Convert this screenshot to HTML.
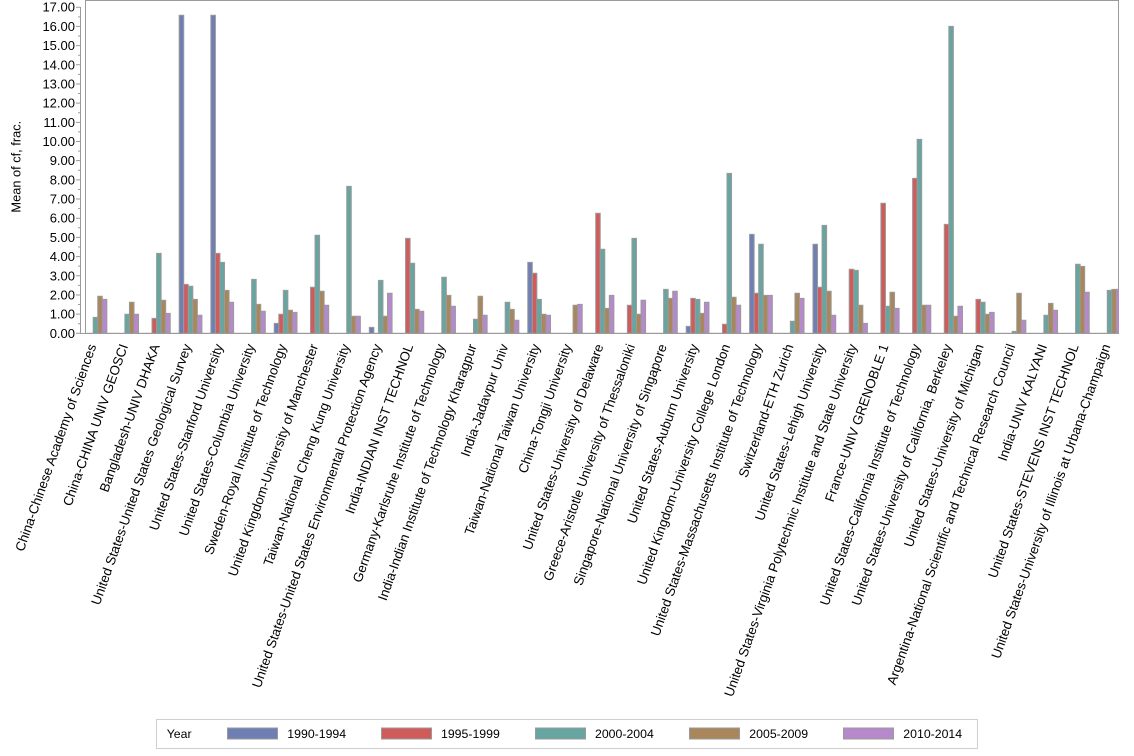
<!DOCTYPE html>
<html>
<head>
<meta charset="utf-8">
<style>
html,body{margin:0;padding:0;background:#fff;}
svg{display:block;}
text{font-family:"Liberation Sans",Arial,sans-serif;fill:#000;}
.b1{fill:#6F7EB3}.b2{fill:#D05B5B}.b3{fill:#66A5A0}.b4{fill:#A9865B}.b5{fill:#B689CD}
.bars rect{stroke:#9a9a9a;stroke-width:1;vector-effect:non-scaling-stroke;}
.cl text{font-size:13.3px;}
.yt text{font-size:13px;}
.lg text{font-size:12.3px;}
</style>
</head>
<body>
<svg width="1134" height="756" viewBox="0 0 1134 756" xmlns="http://www.w3.org/2000/svg">
<defs>
<clipPath id="pc"><rect x="85" y="0" width="1034" height="334"/></clipPath>
</defs>
<rect x="0" y="0" width="1134" height="756" fill="#fff"/>

<!-- frame -->
<rect x="85.5" y="0.5" width="1033" height="332.8" fill="#fff" stroke="#9a9a9a" stroke-width="1"/>

<!-- bars -->
<g class="bars" clip-path="url(#pc)">
<g transform="translate(84.1,333.3) scale(1,-19.18)"><rect class="b3" x="9.1" y="0" width="4.55" height="0.83"/><rect class="b4" x="13.65" y="0" width="4.55" height="1.93"/><rect class="b5" x="18.2" y="0" width="4.55" height="1.77"/></g>
<g transform="translate(115.79,333.3) scale(1,-19.18)"><rect class="b3" x="9.1" y="0" width="4.55" height="0.99"/><rect class="b4" x="13.65" y="0" width="4.55" height="1.62"/><rect class="b5" x="18.2" y="0" width="4.55" height="0.99"/></g>
<g transform="translate(147.48,333.3) scale(1,-19.18)"><rect class="b2" x="4.55" y="0" width="4.55" height="0.78"/><rect class="b3" x="9.1" y="0" width="4.55" height="4.17"/><rect class="b4" x="13.65" y="0" width="4.55" height="1.72"/><rect class="b5" x="18.2" y="0" width="4.55" height="1.04"/></g>
<g transform="translate(179.17,333.3) scale(1,-19.18)"><rect class="b1" x="0" y="0" width="4.55" height="16.58"/><rect class="b2" x="4.55" y="0" width="4.55" height="2.55"/><rect class="b3" x="9.1" y="0" width="4.55" height="2.45"/><rect class="b4" x="13.65" y="0" width="4.55" height="1.77"/><rect class="b5" x="18.2" y="0" width="4.55" height="0.94"/></g>
<g transform="translate(210.86,333.3) scale(1,-19.18)"><rect class="b1" x="0" y="0" width="4.55" height="16.58"/><rect class="b2" x="4.55" y="0" width="4.55" height="4.17"/><rect class="b3" x="9.1" y="0" width="4.55" height="3.70"/><rect class="b4" x="13.65" y="0" width="4.55" height="2.24"/><rect class="b5" x="18.2" y="0" width="4.55" height="1.62"/></g>
<g transform="translate(242.55,333.3) scale(1,-19.18)"><rect class="b3" x="9.1" y="0" width="4.55" height="2.81"/><rect class="b4" x="13.65" y="0" width="4.55" height="1.51"/><rect class="b5" x="18.2" y="0" width="4.55" height="1.15"/></g>
<g transform="translate(274.24,333.3) scale(1,-19.18)"><rect class="b1" x="0" y="0" width="4.55" height="0.52"/><rect class="b2" x="4.55" y="0" width="4.55" height="0.99"/><rect class="b3" x="9.1" y="0" width="4.55" height="2.24"/><rect class="b4" x="13.65" y="0" width="4.55" height="1.20"/><rect class="b5" x="18.2" y="0" width="4.55" height="1.09"/></g>
<g transform="translate(305.93,333.3) scale(1,-19.18)"><rect class="b2" x="4.55" y="0" width="4.55" height="2.40"/><rect class="b3" x="9.1" y="0" width="4.55" height="5.11"/><rect class="b4" x="13.65" y="0" width="4.55" height="2.19"/><rect class="b5" x="18.2" y="0" width="4.55" height="1.46"/></g>
<g transform="translate(337.62,333.3) scale(1,-19.18)"><rect class="b3" x="9.1" y="0" width="4.55" height="7.66"/><rect class="b4" x="13.65" y="0" width="4.55" height="0.89"/><rect class="b5" x="18.2" y="0" width="4.55" height="0.89"/></g>
<g transform="translate(369.31,333.3) scale(1,-19.18)"><rect class="b1" x="0" y="0" width="4.55" height="0.31"/><rect class="b3" x="9.1" y="0" width="4.55" height="2.76"/><rect class="b4" x="13.65" y="0" width="4.55" height="0.89"/><rect class="b5" x="18.2" y="0" width="4.55" height="2.09"/></g>
<g transform="translate(401,333.3) scale(1,-19.18)"><rect class="b2" x="4.55" y="0" width="4.55" height="4.95"/><rect class="b3" x="9.1" y="0" width="4.55" height="3.65"/><rect class="b4" x="13.65" y="0" width="4.55" height="1.25"/><rect class="b5" x="18.2" y="0" width="4.55" height="1.15"/></g>
<g transform="translate(432.69,333.3) scale(1,-19.18)"><rect class="b3" x="9.1" y="0" width="4.55" height="2.92"/><rect class="b4" x="13.65" y="0" width="4.55" height="1.98"/><rect class="b5" x="18.2" y="0" width="4.55" height="1.41"/></g>
<g transform="translate(464.38,333.3) scale(1,-19.18)"><rect class="b3" x="9.1" y="0" width="4.55" height="0.73"/><rect class="b4" x="13.65" y="0" width="4.55" height="1.93"/><rect class="b5" x="18.2" y="0" width="4.55" height="0.94"/></g>
<g transform="translate(496.07,333.3) scale(1,-19.18)"><rect class="b3" x="9.1" y="0" width="4.55" height="1.62"/><rect class="b4" x="13.65" y="0" width="4.55" height="1.25"/><rect class="b5" x="18.2" y="0" width="4.55" height="0.68"/></g>
<g transform="translate(527.76,333.3) scale(1,-19.18)"><rect class="b1" x="0" y="0" width="4.55" height="3.70"/><rect class="b2" x="4.55" y="0" width="4.55" height="3.13"/><rect class="b3" x="9.1" y="0" width="4.55" height="1.77"/><rect class="b4" x="13.65" y="0" width="4.55" height="0.99"/><rect class="b5" x="18.2" y="0" width="4.55" height="0.94"/></g>
<g transform="translate(559.45,333.3) scale(1,-19.18)"><rect class="b4" x="13.65" y="0" width="4.55" height="1.46"/><rect class="b5" x="18.2" y="0" width="4.55" height="1.51"/></g>
<g transform="translate(591.14,333.3) scale(1,-19.18)"><rect class="b2" x="4.55" y="0" width="4.55" height="6.26"/><rect class="b3" x="9.1" y="0" width="4.55" height="4.38"/><rect class="b4" x="13.65" y="0" width="4.55" height="1.30"/><rect class="b5" x="18.2" y="0" width="4.55" height="1.98"/></g>
<g transform="translate(622.83,333.3) scale(1,-19.18)"><rect class="b2" x="4.55" y="0" width="4.55" height="1.46"/><rect class="b3" x="9.1" y="0" width="4.55" height="4.95"/><rect class="b4" x="13.65" y="0" width="4.55" height="0.99"/><rect class="b5" x="18.2" y="0" width="4.55" height="1.72"/></g>
<g transform="translate(654.52,333.3) scale(1,-19.18)"><rect class="b3" x="9.1" y="0" width="4.55" height="2.29"/><rect class="b4" x="13.65" y="0" width="4.55" height="1.82"/><rect class="b5" x="18.2" y="0" width="4.55" height="2.19"/></g>
<g transform="translate(686.21,333.3) scale(1,-19.18)"><rect class="b1" x="0" y="0" width="4.55" height="0.36"/><rect class="b2" x="4.55" y="0" width="4.55" height="1.82"/><rect class="b3" x="9.1" y="0" width="4.55" height="1.77"/><rect class="b4" x="13.65" y="0" width="4.55" height="1.04"/><rect class="b5" x="18.2" y="0" width="4.55" height="1.62"/></g>
<g transform="translate(717.9,333.3) scale(1,-19.18)"><rect class="b2" x="4.55" y="0" width="4.55" height="0.47"/><rect class="b3" x="9.1" y="0" width="4.55" height="8.34"/><rect class="b4" x="13.65" y="0" width="4.55" height="1.88"/><rect class="b5" x="18.2" y="0" width="4.55" height="1.46"/></g>
<g transform="translate(749.59,333.3) scale(1,-19.18)"><rect class="b1" x="0" y="0" width="4.55" height="5.16"/><rect class="b2" x="4.55" y="0" width="4.55" height="2.09"/><rect class="b3" x="9.1" y="0" width="4.55" height="4.64"/><rect class="b4" x="13.65" y="0" width="4.55" height="1.98"/><rect class="b5" x="18.2" y="0" width="4.55" height="1.98"/></g>
<g transform="translate(781.28,333.3) scale(1,-19.18)"><rect class="b3" x="9.1" y="0" width="4.55" height="0.63"/><rect class="b4" x="13.65" y="0" width="4.55" height="2.09"/><rect class="b5" x="18.2" y="0" width="4.55" height="1.82"/></g>
<g transform="translate(812.97,333.3) scale(1,-19.18)"><rect class="b1" x="0" y="0" width="4.55" height="4.64"/><rect class="b2" x="4.55" y="0" width="4.55" height="2.40"/><rect class="b3" x="9.1" y="0" width="4.55" height="5.63"/><rect class="b4" x="13.65" y="0" width="4.55" height="2.19"/><rect class="b5" x="18.2" y="0" width="4.55" height="0.94"/></g>
<g transform="translate(844.66,333.3) scale(1,-19.18)"><rect class="b2" x="4.55" y="0" width="4.55" height="3.34"/><rect class="b3" x="9.1" y="0" width="4.55" height="3.28"/><rect class="b4" x="13.65" y="0" width="4.55" height="1.46"/><rect class="b5" x="18.2" y="0" width="4.55" height="0.52"/></g>
<g transform="translate(876.35,333.3) scale(1,-19.18)"><rect class="b2" x="4.55" y="0" width="4.55" height="6.78"/><rect class="b3" x="9.1" y="0" width="4.55" height="1.41"/><rect class="b4" x="13.65" y="0" width="4.55" height="2.14"/><rect class="b5" x="18.2" y="0" width="4.55" height="1.30"/></g>
<g transform="translate(908.04,333.3) scale(1,-19.18)"><rect class="b2" x="4.55" y="0" width="4.55" height="8.08"/><rect class="b3" x="9.1" y="0" width="4.55" height="10.11"/><rect class="b4" x="13.65" y="0" width="4.55" height="1.46"/><rect class="b5" x="18.2" y="0" width="4.55" height="1.46"/></g>
<g transform="translate(939.73,333.3) scale(1,-19.18)"><rect class="b2" x="4.55" y="0" width="4.55" height="5.68"/><rect class="b3" x="9.1" y="0" width="4.55" height="16.0"/><rect class="b4" x="13.65" y="0" width="4.55" height="0.89"/><rect class="b5" x="18.2" y="0" width="4.55" height="1.41"/></g>
<g transform="translate(971.42,333.3) scale(1,-19.18)"><rect class="b2" x="4.55" y="0" width="4.55" height="1.77"/><rect class="b3" x="9.1" y="0" width="4.55" height="1.62"/><rect class="b4" x="13.65" y="0" width="4.55" height="0.99"/><rect class="b5" x="18.2" y="0" width="4.55" height="1.09"/></g>
<g transform="translate(1003.11,333.3) scale(1,-19.18)"><rect class="b3" x="9.1" y="0" width="4.55" height="0.10"/><rect class="b4" x="13.65" y="0" width="4.55" height="2.09"/><rect class="b5" x="18.2" y="0" width="4.55" height="0.68"/></g>
<g transform="translate(1034.8,333.3) scale(1,-19.18)"><rect class="b3" x="9.1" y="0" width="4.55" height="0.94"/><rect class="b4" x="13.65" y="0" width="4.55" height="1.56"/><rect class="b5" x="18.2" y="0" width="4.55" height="1.20"/></g>
<g transform="translate(1066.49,333.3) scale(1,-19.18)"><rect class="b3" x="9.1" y="0" width="4.55" height="3.60"/><rect class="b4" x="13.65" y="0" width="4.55" height="3.49"/><rect class="b5" x="18.2" y="0" width="4.55" height="2.14"/></g>
<g transform="translate(1098.18,333.3) scale(1,-19.18)"><rect class="b3" x="9.1" y="0" width="4.55" height="2.24"/><rect class="b4" x="13.65" y="0" width="4.55" height="2.29"/><rect class="b5" x="18.2" y="0" width="4.55" height="2.29"/></g>
</g>

<!-- axis lines -->
<line x1="80.5" y1="7" x2="80.5" y2="333.8" stroke="#9a9a9a" stroke-width="1"/>
<line x1="80" y1="333.5" x2="1119" y2="333.5" stroke="#9a9a9a" stroke-width="1"/>
<g transform="translate(0,333.3) scale(1,-19.18)" stroke="#9a9a9a" stroke-width="1" style="vector-effect:non-scaling-stroke">
<path vector-effect="non-scaling-stroke" fill="none" stroke="#9a9a9a" d="M76 0H80.5M76 1H80.5M76 2H80.5M76 3H80.5M76 4H80.5M76 5H80.5M76 6H80.5M76 7H80.5M76 8H80.5M76 9H80.5M76 10H80.5M76 11H80.5M76 12H80.5M76 13H80.5M76 14H80.5M76 15H80.5M76 16H80.5M76 17H80.5M78 0.5H80.5M78 1.5H80.5M78 2.5H80.5M78 3.5H80.5M78 4.5H80.5M78 5.5H80.5M78 6.5H80.5M78 7.5H80.5M78 8.5H80.5M78 9.5H80.5M78 10.5H80.5M78 11.5H80.5M78 12.5H80.5M78 13.5H80.5M78 14.5H80.5M78 15.5H80.5M78 16.5H80.5"/>
</g>

<!-- y tick labels -->
<g class="yt" text-anchor="end">
<text x="75" y="337.8">0.00</text>
<text x="75" y="318.6">1.00</text>
<text x="75" y="299.4">2.00</text>
<text x="75" y="280.3">3.00</text>
<text x="75" y="261.1">4.00</text>
<text x="75" y="241.9">5.00</text>
<text x="75" y="222.7">6.00</text>
<text x="75" y="203.5">7.00</text>
<text x="75" y="184.4">8.00</text>
<text x="75" y="165.2">9.00</text>
<text x="75" y="146">10.00</text>
<text x="75" y="126.8">11.00</text>
<text x="75" y="107.6">12.00</text>
<text x="75" y="88.5">13.00</text>
<text x="75" y="69.3">14.00</text>
<text x="75" y="50.1">15.00</text>
<text x="75" y="30.9">16.00</text>
<text x="75" y="11.7">17.00</text>
</g>

<!-- y axis title -->
<text transform="translate(20.3,166.7) rotate(-90)" text-anchor="middle" style="font-size:12.8px">Mean of cf, frac.</text>

<!-- category labels -->
<g class="cl" transform="translate(96.5,346)" text-anchor="end">
<text transform="translate(0,0) rotate(-70.5)">China-Chinese Academy of Sciences</text>
<text transform="translate(31.69,0) rotate(-70.5)">China-CHINA UNIV GEOSCI</text>
<text transform="translate(63.38,0) rotate(-70.5)">Bangladesh-UNIV DHAKA</text>
<text transform="translate(95.07,0) rotate(-70.5)">United States-United States Geological Survey</text>
<text transform="translate(126.76,0) rotate(-70.5)">United States-Stanford University</text>
<text transform="translate(158.45,0) rotate(-70.5)">United States-Columbia University</text>
<text transform="translate(190.14,0) rotate(-70.5)">Sweden-Royal Institute of Technology</text>
<text transform="translate(221.83,0) rotate(-70.5)">United Kingdom-University of Manchester</text>
<text transform="translate(253.52,0) rotate(-70.5)">Taiwan-National Cheng Kung University</text>
<text transform="translate(285.21,0) rotate(-70.5)">United States-United States Environmental Protection Agency</text>
<text transform="translate(316.9,0) rotate(-70.5)">India-INDIAN INST TECHNOL</text>
<text transform="translate(348.59,0) rotate(-70.5)">Germany-Karlsruhe Institute of Technology</text>
<text transform="translate(380.28,0) rotate(-70.5)">India-Indian Institute of Technology Kharagpur</text>
<text transform="translate(411.97,0) rotate(-70.5)">India-Jadavpur Univ</text>
<text transform="translate(443.66,0) rotate(-70.5)">Taiwan-National Taiwan University</text>
<text transform="translate(475.35,0) rotate(-70.5)">China-Tongji University</text>
<text transform="translate(507.04,0) rotate(-70.5)">United States-University of Delaware</text>
<text transform="translate(538.73,0) rotate(-70.5)">Greece-Aristotle University of Thessaloniki</text>
<text transform="translate(570.42,0) rotate(-70.5)">Singapore-National University of Singapore</text>
<text transform="translate(602.11,0) rotate(-70.5)">United States-Auburn University</text>
<text transform="translate(633.8,0) rotate(-70.5)">United Kingdom-University College London</text>
<text transform="translate(665.49,0) rotate(-70.5)">United States-Massachusetts Institute of Technology</text>
<text transform="translate(697.18,0) rotate(-70.5)">Switzerland-ETH Zurich</text>
<text transform="translate(728.87,0) rotate(-70.5)">United States-Lehigh University</text>
<text transform="translate(760.56,0) rotate(-70.5)">United States-Virginia Polytechnic Institute and State University</text>
<text transform="translate(792.25,0) rotate(-70.5)">France-UNIV GRENOBLE 1</text>
<text transform="translate(823.94,0) rotate(-70.5)">United States-California Institute of Technology</text>
<text transform="translate(855.63,0) rotate(-70.5)">United States-University of California, Berkeley</text>
<text transform="translate(887.32,0) rotate(-70.5)">United States-University of Michigan</text>
<text transform="translate(919.01,0) rotate(-70.5)">Argentina-National Scientific and Technical Research Council</text>
<text transform="translate(950.7,0) rotate(-70.5)">India-UNIV KALYANI</text>
<text transform="translate(982.39,0) rotate(-70.5)">United States-STEVENS INST TECHNOL</text>
<text transform="translate(1014.08,0) rotate(-70.5)">United States-University of Illinois at Urbana-Champaign</text>
</g>

<!-- legend -->
<g class="lg">
<rect x="156.5" y="719.5" width="821" height="29" fill="#fff" stroke="#cfcfcf" stroke-width="1"/>
<text x="166.7" y="737.8">Year</text>
<rect class="b1" x="227.5" y="728" width="50" height="11" stroke="#9a9a9a" stroke-width="1"/>
<text x="287.3" y="737.8">1990-1994</text>
<rect class="b2" x="381.5" y="728" width="50" height="11" stroke="#9a9a9a" stroke-width="1"/>
<text x="441" y="737.8">1995-1999</text>
<rect class="b3" x="535.5" y="728" width="50" height="11" stroke="#9a9a9a" stroke-width="1"/>
<text x="595" y="737.8">2000-2004</text>
<rect class="b4" x="689.5" y="728" width="50" height="11" stroke="#9a9a9a" stroke-width="1"/>
<text x="749.3" y="737.8">2005-2009</text>
<rect class="b5" x="843.5" y="728" width="50" height="11" stroke="#9a9a9a" stroke-width="1"/>
<text x="903.3" y="737.8">2010-2014</text>
</g>
</svg>
</body>
</html>
